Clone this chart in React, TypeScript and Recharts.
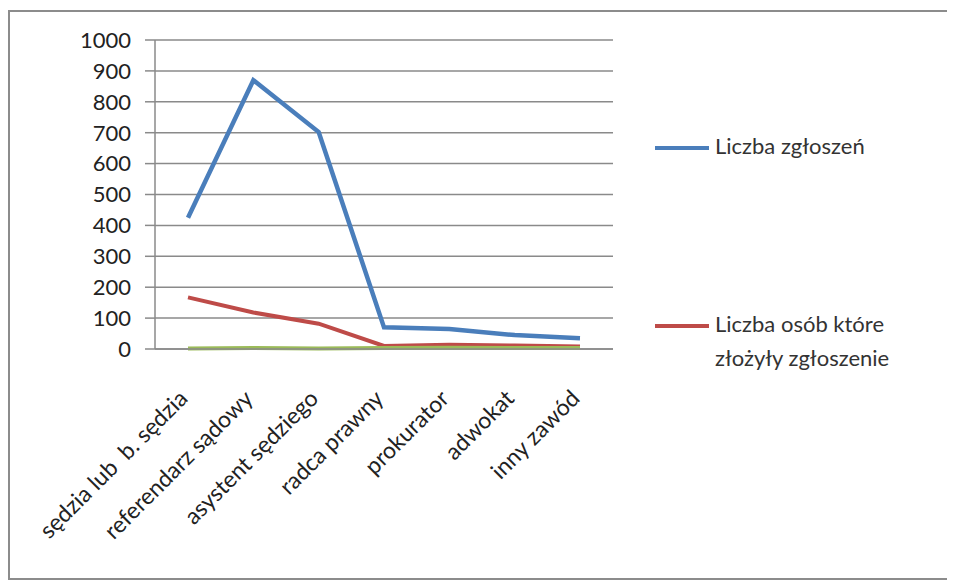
import React from 'react';
import { LineChart, Line, XAxis, YAxis, CartesianGrid, Legend } from 'recharts';

const categories = [
  'sędzia lub  b. sędzia',
  'referendarz sądowy',
  'asystent sędziego',
  'radca prawny',
  'prokurator',
  'adwokat',
  'inny zawód',
];
const zgloszenia = [425, 870, 702, 70, 65, 45, 35];
const osoby = [167, 118, 82, 10, 14, 11, 8];
const inne = [2, 3, 2, 3, 4, 3, 3];
const yTicks = [0, 100, 200, 300, 400, 500, 600, 700, 800, 900, 1000];
const boundaryTicks = [0, 1, 2, 3, 4, 5, 6, 7];

const data = categories.map((c, i) => ({
  name: c,
  idx: i + 0.5,
  zgloszenia: zgloszenia[i],
  osoby: osoby[i],
  inne: inne[i],
}));

const FONT = 'Lato, "Open Sans", sans-serif';
const GRAY = '#8a8a8a';

const RotTick = (props: any) => {
  const { x, y, payload } = props;
  const ax = x + 1;
  const ay = y + 42;
  return (
    <text
      x={ax}
      y={ay}
      textAnchor="end"
      fontFamily={FONT}
      fontSize={23}
      fill="#222"
      style={{ whiteSpace: 'pre' }}
      transform={`rotate(-45, ${ax}, ${ay})`}
    >
      {payload.value}
    </text>
  );
};

const LegendContent = (props: any) => {
  const payload = (props.payload || []).filter((p: any) => p.type !== 'none');
  const tops: Record<string, number> = { zgloszenia: 0, osoby: 178 };
  return (
    <div style={{ position: 'relative', width: 300, height: 260, fontFamily: FONT }}>
      {payload.map((p: any, i: number) => (
        <div
          key={i}
          style={{ position: 'absolute', left: 0, top: tops[p.dataKey] ?? i * 178, display: 'flex', alignItems: 'flex-start' }}
        >
          <div style={{ width: 54, height: 4, background: p.color, marginTop: 14, marginRight: 6 }} />
          <div style={{ width: 205, fontSize: 22, lineHeight: '34px', color: '#333', marginTop: -3 }}>{p.value}</div>
        </div>
      ))}
    </div>
  );
};

export default function App() {
  return (
    <div
      style={{
        width: 947,
        height: 570,
        border: '2px solid #8c8c8c',
        boxSizing: 'border-box',
        marginTop: 2,
        background: '#fff',
        position: 'relative',
      }}
    >
      <LineChart
        width={943}
        height={566}
        data={data}
        margin={{ top: 28, right: 340, left: 0, bottom: 0 }}
        style={{ position: 'absolute', left: 0, top: 0 }}
      >
        <CartesianGrid vertical={false} stroke={GRAY} strokeWidth={1.5} xAxisId="cat" />
        <XAxis
          xAxisId="bound"
          type="number"
          dataKey="idx"
          domain={[0, 7]}
          ticks={boundaryTicks}
          tick={false}
          tickSize={8}
          axisLine={{ stroke: GRAY, strokeWidth: 1.5 }}
          tickLine={{ stroke: GRAY, strokeWidth: 1.5 }}
          height={1}
        />
        <XAxis
          xAxisId="cat"
          dataKey="name"
          interval={0}
          padding={{ left: 33, right: 33 }}
          axisLine={false}
          tickLine={false}
          tick={<RotTick />}
          height={228}
        />
        <YAxis
          domain={[0, 1000]}
          ticks={yTicks}
          interval={0}
          width={145}
          tickSize={10}
          tickMargin={14}
          axisLine={{ stroke: GRAY, strokeWidth: 1.5 }}
          tickLine={{ stroke: GRAY, strokeWidth: 1.5 }}
          tick={{ fontFamily: FONT, fontSize: 22, fill: '#222' }}
        />
        <Line
          xAxisId="cat"
          dataKey="zgloszenia"
          name="Liczba zgłoszeń"
          stroke="#4a7ebb"
          strokeWidth={4.5}
          dot={false}
          isAnimationActive={false}
        />
        <Line
          xAxisId="cat"
          dataKey="osoby"
          name="Liczba osób które złożyły zgłoszenie"
          stroke="#be4b48"
          strokeWidth={4}
          dot={false}
          isAnimationActive={false}
        />
        <Line
          xAxisId="cat"
          dataKey="inne"
          name="inne"
          stroke="#9bbb59"
          strokeWidth={4}
          dot={false}
          legendType="none"
          isAnimationActive={false}
        />
        <Legend
          layout="vertical"
          align="center"
          verticalAlign="middle"
          content={<LegendContent />}
          wrapperStyle={{ position: 'absolute', left: 645, top: 120, width: 300 }}
        />
      </LineChart>
    </div>
  );
}
